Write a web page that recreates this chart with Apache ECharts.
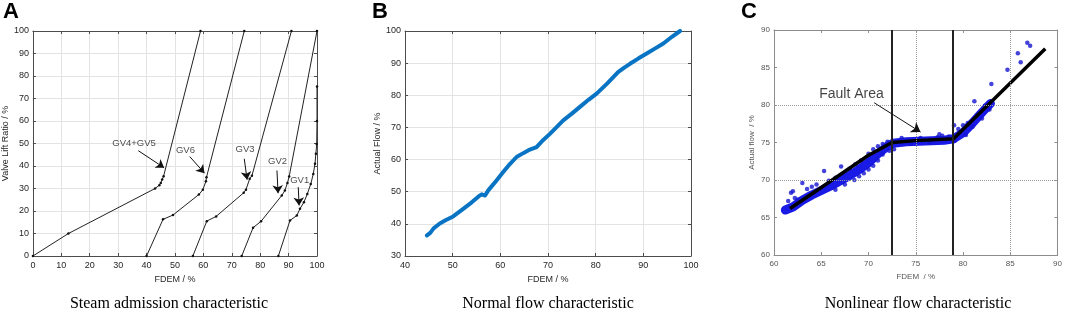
<!doctype html>
<html>
<head>
<meta charset="utf-8">
<title>valve characteristics</title>
<script src="https://cdn.jsdelivr.net/npm/echarts@6/dist/echarts.min.js"></script>
</head>
<body style="margin:0;padding:0;background:#fff;">
<div id="tb" style="width:1065px;height:316px;"></div>
<script>
// A: steam admission characteristic (FDEM %, valve lift %)
var gv45X = [0, 12.5, 43, 44.5, 45, 45.5, 46, 59];
var gv45Y = [0, 10, 30, 31.5, 32.5, 34, 35.5, 100];
var gv6X = [40, 45.8, 49.3, 58.4, 59.8, 60.9, 61.1, 74.4];
var gv6Y = [0, 16.3, 18.2, 27.3, 29.4, 33.2, 35, 100];
var gv3X = [56.3, 61.2, 64.5, 74.2, 75, 76.3, 77.1, 91];
var gv3Y = [0, 15.5, 17.6, 28.1, 29.5, 34.3, 35.7, 100];
var gv2X = [73.5, 77.5, 80.3, 87.6, 88.7, 89.6, 90.2, 100];
var gv2Y = [0, 12.6, 15.4, 26.9, 29.1, 32.5, 35.3, 100];
var gv1X = [86.4, 90.5, 92.9, 94, 95.4, 96.6, 97.8, 98.7, 99.3, 99.6, 99.9, 100, 100];
var gv1Y = [0, 15.8, 18, 21, 23.9, 27.6, 32, 36.5, 41, 45.4, 49.8, 60, 75.3];
var gvNames = ['GV4+GV5', 'GV6', 'GV3', 'GV2', 'GV1'];

// B: normal flow characteristic
var normX = [44.6, 45.3, 46, 47.3, 48.5, 50.1, 52, 54, 55.5, 56.1, 56.8, 57.5, 58.3, 59.2, 60.6, 62, 63.4, 64.8, 66.2, 67.6, 69, 70.4, 71.8, 73.2, 75, 76.7, 78.5, 80.2, 82.5, 84.7, 86, 87.2, 89, 90.7, 92.5, 94.2, 96, 97.7];
var normY = [36.4, 37.2, 38.6, 40.1, 41.1, 42.3, 44.4, 46.7, 48.6, 49.2, 48.8, 50.5, 51.9, 53.5, 56.1, 58.6, 60.8, 62.0, 63.1, 63.9, 66.1, 68.0, 70.1, 72.2, 74.3, 76.4, 78.6, 80.5, 83.8, 87.2, 88.6, 89.8, 91.5, 93.0, 94.6, 96.1, 98.2, 100];

// C: nonlinear flow characteristic
var fitX = [61.7, 65, 70, 72.5, 75, 79, 88.7];
var fitY = [66.2, 69.0, 73.3, 75.0, 75.25, 75.5, 87.5];
var bandX = [61.2, 62, 63, 64, 65, 66, 67, 68, 69, 70, 71, 72, 72.6, 74, 76, 78, 79, 80, 81, 82, 82.9];
var bandY = [66.0, 66.4, 67.3, 68.0, 68.6, 69.2, 69.9, 70.6, 71.4, 72.3, 73.5, 74.5, 74.9, 75.1, 75.2, 75.3, 75.5, 76.3, 77.6, 79.0, 80.2];
var scatX = [61.5, 61.8, 62.0, 62.2, 62.5, 63.0, 63.5, 64.0, 64.5, 65.3, 65.8, 66.5, 67.1, 68.0, 68.6, 69.2, 70.0, 70.5, 71.0, 71.5, 72.0,
             66.5, 67.5, 68.5, 69.0, 69.5, 70.0, 70.5, 71.0, 71.5, 72.2, 72.7,
             73.5, 74.5, 75.5, 76.5, 77.3, 77.8, 78.5, 79.1, 77.5,
             79.05, 79.5, 80.0, 80.5, 80.3, 81.0, 81.2, 81.5, 82.0, 82.3, 82.8, 83.0, 84.7, 85.8, 86.1, 86.8, 87.1];
var scatY = [67.2, 68.3, 68.5, 67.6, 67.4, 69.6, 68.8, 69.1, 69.4, 71.2, 69.9, 70.3, 71.8, 71.5, 72.1, 72.6, 73.5, 74.1, 74.5, 74.8, 75.1,
             68.7, 69.4, 70.0, 70.5, 70.9, 71.4, 71.9, 72.6, 73.4, 73.9, 74.1,
             75.6, 74.9, 75.6, 75.0, 75.7, 75.9, 75.8, 75.2, 76.1,
             77.3, 76.8, 77.3, 77.6, 76.0, 77.1, 80.5, 78.6, 78.2, 79.9, 79.4, 82.8, 84.7, 86.9, 85.7, 88.3, 87.9];
var faultBounds = [72.5, 78.9];

function pairs(xs, ys) {
    return xs.map(function (x, i) { return [x, ys[i]]; });
}

var chart = echarts.init(document.getElementById('tb'));

var dark = '#4d4d4d';
var grey = '#8c8c8c';
var txt = '#262626';

function xAx(grid, min, max, step, pos, label, name, c, fs) {
    return {
        type: 'value', gridIndex: grid, min: min, max: max, interval: step, position: pos,
        name: name, nameLocation: 'middle', nameGap: 15,
        nameTextStyle: { color: c.t, fontSize: fs, fontFamily: 'Liberation Sans' },
        axisLine: { show: true, onZero: false, lineStyle: { color: c.a, width: 1 } },
        axisTick: { show: true, inside: true, length: 3, lineStyle: { color: c.a } },
        axisLabel: { show: label, margin: 5, color: c.t, fontSize: fs, fontFamily: 'Liberation Sans' },
        splitLine: { show: c.g && label, lineStyle: { color: '#e3e3e3', width: 1 } }
    };
}
function yAx(grid, min, max, step, pos, label, name, gap, c, fs) {
    return {
        type: 'value', gridIndex: grid, min: min, max: max, interval: step, position: pos,
        name: name, nameLocation: 'middle', nameGap: gap, nameRotate: 90,
        nameTextStyle: { color: c.t, fontSize: fs, fontFamily: 'Liberation Sans' },
        axisLine: { show: true, onZero: false, lineStyle: { color: c.a, width: 1 } },
        axisTick: { show: true, inside: true, length: 3, lineStyle: { color: c.a } },
        axisLabel: { show: label, margin: 4, color: c.t, fontSize: fs, fontFamily: 'Liberation Sans' },
        splitLine: { show: c.g && label, lineStyle: { color: '#e3e3e3', width: 1 } }
    };
}
var cAB = { a: dark, t: txt, g: true };
var cC = { a: grey, t: '#555', g: false };

function gvLine(xs, ys) {
    return {
        type: 'line', xAxisIndex: 0, yAxisIndex: 0, data: pairs(xs, ys),
        symbol: 'circle', symbolSize: 2.5, showSymbol: true,
        itemStyle: { color: '#111' }, lineStyle: { color: '#222', width: 1 },
        animation: false, z: 3
    };
}

// arrows are solid, markLine defaults to dashed
var arrowStyle = { color: '#111', width: 1, type: 'solid' };

chart.setOption({
    animation: false,
    grid: [
        { left: 31, top: 31, width: 286, height: 225 },
        { left: 405, top: 31, width: 286, height: 225 },
        { left: 774, top: 30, width: 285, height: 225 }
    ],
    xAxis: [
        xAx(0, 0, 100, 10, 'bottom', true, 'FDEM / %', cAB, 9),
        xAx(0, 0, 100, 10, 'top', false, '', cAB, 9),
        xAx(1, 40, 100, 10, 'bottom', true, 'FDEM / %', cAB, 9),
        xAx(1, 40, 100, 10, 'top', false, '', cAB, 9),
        xAx(2, 60, 90, 5, 'bottom', true, 'FDEM  / %', cC, 8),
        xAx(2, 60, 90, 5, 'top', false, '', cC, 8)
    ],
    yAxis: [
        yAx(0, 0, 100, 10, 'left', true, 'Valve Lift Ratio / %', 20, cAB, 9),
        yAx(0, 0, 100, 10, 'right', false, '', 0, cAB, 9),
        yAx(1, 30, 100, 10, 'left', true, 'Actual Flow / %', 21, cAB, 9),
        yAx(1, 30, 100, 10, 'right', false, '', 0, cAB, 9),
        yAx(2, 60, 90, 5, 'left', true, 'Actual flow  / %', 18, cC, 8),
        yAx(2, 60, 90, 5, 'right', false, '', 0, cC, 8)
    ],
    series: [
        gvLine(gv45X, gv45Y),
        gvLine(gv6X, gv6Y),
        gvLine(gv3X, gv3Y),
        gvLine(gv2X, gv2Y),
        gvLine(gv1X, gv1Y),
        {
            // valve labels with arrows
            type: 'scatter', xAxisIndex: 0, yAxisIndex: 0, symbolSize: 0,
            data: [[35.6, 50.1], [53.7, 46.8], [74.7, 47.6], [86.1, 42.1], [93.9, 33.5]].map(function (p, i) {
                return { value: p, name: gvNames[i] };
            }),
            label: { show: true, position: 'inside', formatter: '{b}', color: '#1a1a1a', fontSize: 9.5, fontFamily: 'Liberation Sans' },
            markLine: {
                silent: true, symbol: ['none', 'arrow'], symbolSize: 8,
                lineStyle: arrowStyle, label: { show: false },
                data: [
                    [{ coord: [37.1, 46.8] }, { coord: [46.2, 39.2] }],
                    [{ coord: [55.2, 44.2] }, { coord: [60.4, 36.8] }],
                    [{ coord: [74.4, 43.2] }, { coord: [75.4, 33.9] }],
                    [{ coord: [85.9, 38.0] }, { coord: [86.3, 27.9] }],
                    [{ coord: [93.4, 30.6] }, { coord: [93.7, 22.5] }]
                ]
            }
        },
        {
            type: 'line', xAxisIndex: 2, yAxisIndex: 2, data: pairs(normX, normY),
            showSymbol: false, lineStyle: { color: '#0a74c4', width: 4, cap: 'round', join: 'round' }
        },
        {
            // dotted reference grid of panel C
            type: 'line', xAxisIndex: 4, yAxisIndex: 4, data: [],
            markLine: {
                silent: true, symbol: 'none', label: { show: false },
                lineStyle: { color: '#9a9a9a', type: 'dotted', width: 1 },
                data: [{ xAxis: 75 }, { xAxis: 85 }, { yAxis: 70 }, { yAxis: 80 }]
            }
        },
        {
            type: 'line', xAxisIndex: 4, yAxisIndex: 4, data: pairs(bandX, bandY),
            showSymbol: false, lineStyle: { color: '#1a1ae6', width: 9, cap: 'round', join: 'round' }, z: 2
        },
        {
            type: 'scatter', xAxisIndex: 4, yAxisIndex: 4, data: pairs(scatX, scatY),
            symbolSize: 4.5, itemStyle: { color: '#1414d2' }, z: 3
        },
        {
            type: 'line', xAxisIndex: 4, yAxisIndex: 4, data: pairs(fitX, fitY),
            showSymbol: false, lineStyle: { color: '#000', width: 3.5 }, z: 4,
            markLine: {
                silent: true, symbol: 'none', label: { show: false },
                lineStyle: { color: '#222', type: 'solid', width: 2 },
                data: faultBounds.map(function (v) { return { xAxis: v }; })
            }
        },
        {
            type: 'scatter', xAxisIndex: 4, yAxisIndex: 4, symbolSize: 0, z: 5,
            data: [{ value: [68.2, 81.4], name: 'Fault Area' }],
            label: { show: true, position: 'inside', formatter: '{b}', color: '#111', fontSize: 14, fontFamily: 'Liberation Sans' },
            markLine: {
                silent: true, symbol: ['none', 'arrow'], symbolSize: 9,
                lineStyle: arrowStyle, label: { show: false },
                data: [[{ coord: [70.6, 80.3] }, { coord: [75.5, 76.4] }]]
            }
        }
    ],
    graphic: [
        { type: 'text', left: 3, top: 1, style: { text: 'A', font: 'bold 22px "Liberation Sans"', fill: '#000' } },
        { type: 'text', left: 372, top: 1, style: { text: 'B', font: 'bold 22px "Liberation Sans"', fill: '#000' } },
        { type: 'text', left: 741, top: 1, style: { text: 'C', font: 'bold 22px "Liberation Sans"', fill: '#000' } },
        { type: 'text', x: 169, y: 304, style: { text: 'Steam admission characteristic', font: '16px "Liberation Serif"', fill: '#000', align: 'center', verticalAlign: 'middle' } },
        { type: 'text', x: 548, y: 304, style: { text: 'Normal flow characteristic', font: '16px "Liberation Serif"', fill: '#000', align: 'center', verticalAlign: 'middle' } },
        { type: 'text', x: 918, y: 304, style: { text: 'Nonlinear flow characteristic', font: '16px "Liberation Serif"', fill: '#000', align: 'center', verticalAlign: 'middle' } }
    ]
});
</script>
</body>
</html>
